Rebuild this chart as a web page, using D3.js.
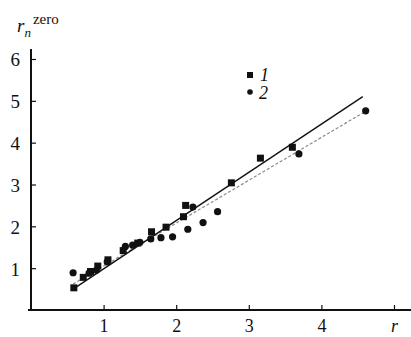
<!DOCTYPE html>
<html>
<head>
<meta charset="utf-8">
<script src="https://cdn.jsdelivr.net/npm/d3@7"></script>
<style>
  body { margin: 0; background: #fff; }
</style>
</head>
<body>
<div id="chart"></div>
<script>
// series 1 (squares)
const r1 = [0.59, 0.72, 0.82, 0.92, 1.06, 1.27, 1.47, 1.66, 1.86, 2.10, 2.13, 2.76, 3.16, 3.60];
const rn1 = [0.53, 0.78, 0.92, 1.05, 1.20, 1.42, 1.60, 1.87, 1.98, 2.23, 2.50, 3.04, 3.63, 3.89];
// series 2 (circles)
const r2 = [0.58, 0.80, 0.90, 1.05, 1.30, 1.40, 1.50, 1.65, 1.79, 1.95, 2.16, 2.23, 2.37, 2.57, 3.69, 4.61];
const rn2 = [0.89, 0.88, 0.95, 1.15, 1.52, 1.55, 1.62, 1.70, 1.73, 1.75, 1.93, 2.46, 2.09, 2.35, 3.73, 4.76];
// fitted lines, end points
const fit1 = [[0.58, 0.50], [4.57, 5.10]];
const fit2 = [[0.58, 0.62], [4.60, 4.74]];

const xTicks = [1, 2, 3, 4, 5];
const xTickLabels = ["1", "2", "3", "4", "r"];
const yTicks = [1, 2, 3, 4, 5, 6];

const width = 411, height = 337;
const serif = '"Liberation Serif", "DejaVu Serif", serif';

const svg = d3.select("#chart").append("svg")
    .attr("width", width)
    .attr("height", height)
    .style("font-family", serif);

const x = d3.scaleLinear().domain([0, 5]).range([31, 394]);
const y = d3.scaleLinear().domain([0, 6]).range([310, 59]);

// axes lines
svg.append("line")
    .attr("x1", x(0)).attr("x2", x(0))
    .attr("y1", 49).attr("y2", y(0) + 1)
    .attr("stroke", "#111").attr("stroke-width", 2);
svg.append("line")
    .attr("x1", 28).attr("x2", width)
    .attr("y1", y(0)).attr("y2", y(0))
    .attr("stroke", "#111").attr("stroke-width", 2);

// y axis ticks
const yAxis = svg.append("g")
    .attr("transform", "translate(" + x(0) + ",0)")
    .call(d3.axisLeft(y).tickValues(yTicks).tickSizeInner(-5).tickSizeOuter(0).tickPadding(11)
        .tickFormat(d3.format("d")));
yAxis.attr("font-family", null).attr("font-size", null);
yAxis.select(".domain").remove();
yAxis.selectAll("line").attr("stroke", "#111").attr("stroke-width", 1.2);
yAxis.selectAll("text").style("font-family", serif).style("font-size", "19px")
    .attr("fill", "#111").attr("dy", "0.36em");

// x axis ticks
const xAxis = svg.append("g")
    .attr("transform", "translate(0," + y(0) + ")")
    .call(d3.axisBottom(x).tickValues(xTicks).tickSizeInner(-5).tickSizeOuter(0).tickPadding(9)
        .tickFormat((d, i) => xTickLabels[i]));
xAxis.attr("font-family", null).attr("font-size", null);
xAxis.select(".domain").remove();
xAxis.selectAll("line").attr("stroke", "#111").attr("stroke-width", 1.2);
xAxis.selectAll("text").style("font-family", serif).style("font-size", "18px").attr("fill", "#111")
    .style("font-style", (d, i) => xTickLabels[i] === "r" ? "italic" : "normal");

// y title r_n^zero
const title = svg.append("text").attr("x", 17).attr("y", 32).attr("fill", "#111");
title.append("tspan").text("r").style("font-style", "italic").style("font-size", "19px");
title.append("tspan").text("n").attr("dy", 5).style("font-style", "italic").style("font-size", "13px");
title.append("tspan").text("zero").attr("dx", 2).attr("dy", -13).style("font-size", "15px");

// fit lines
const line = d3.line().x(d => x(d[0])).y(d => y(d[1]));
svg.append("path").datum(fit2)
    .attr("d", line)
    .attr("fill", "none")
    .attr("stroke", "#8a8a8a")
    .attr("stroke-width", 1.2)
    .attr("stroke-dasharray", "3,2");
svg.append("path").datum(fit1)
    .attr("d", line)
    .attr("fill", "none")
    .attr("stroke", "#111")
    .attr("stroke-width", 1.4);

// points
const s = 7;
svg.append("g").selectAll("rect")
    .data(r1.map((d, i) => [d, rn1[i]]))
    .join("rect")
    .attr("x", d => x(d[0]) - s / 2)
    .attr("y", d => y(d[1]) - s / 2)
    .attr("width", s).attr("height", s)
    .attr("fill", "#111");

svg.append("g").selectAll("circle")
    .data(r2.map((d, i) => [d, rn2[i]]))
    .join("circle")
    .attr("cx", d => x(d[0]))
    .attr("cy", d => y(d[1]))
    .attr("r", 3.6)
    .attr("fill", "#111");

// legend
svg.append("rect").attr("x", 247).attr("y", 72).attr("width", 6).attr("height", 6).attr("fill", "#111");
svg.append("text").attr("x", 260).attr("y", 81).text("1").attr("fill", "#111")
    .style("font-style", "italic").style("font-size", "18px");
svg.append("circle").attr("cx", 250).attr("cy", 92).attr("r", 2.8).attr("fill", "#111");
svg.append("text").attr("x", 259).attr("y", 99).text("2").attr("fill", "#111")
    .style("font-style", "italic").style("font-size", "18px");
</script>
</body>
</html>
